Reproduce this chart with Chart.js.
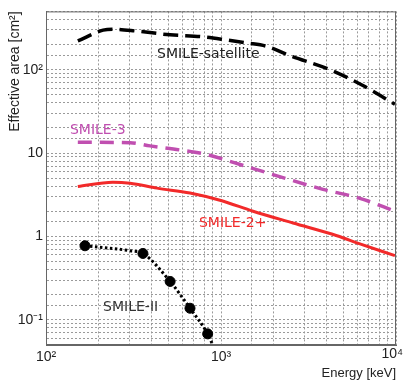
<!DOCTYPE html>
<html>
<head>
<meta charset="utf-8">
<script src="https://cdn.jsdelivr.net/npm/chart.js@4.4.1/dist/chart.umd.min.js"></script>
<style>
	html, body { margin: 0; padding: 0; background: #fff; }
	#wrap { width: 404px; height: 383px; }
</style>
</head>
<body>
<div id="wrap"><canvas id="areaChart"></canvas></div>
<script>
// energy [keV] / effective area [cm2]
const satEnergy = [152, 212, 241, 331, 512, 789, 1082, 1408, 1833, 2480, 4200, 6470, 9860];
const satArea = [221, 298, 306, 290, 262, 248, 227, 209, 190, 147, 100, 64.6, 38.5];

const s3Energy = [152, 302, 393, 583, 832, 1285, 1980, 3830, 6220, 9860];
const s3Area = [13.5, 13.3, 12.2, 10.9, 9.6, 7.3, 5.53, 3.67, 2.87, 2.01];

const s2pEnergy = [152, 241, 302, 431, 665, 986, 1524, 2580, 4600, 6220, 9860];
const s2pArea = [3.98, 4.48, 4.36, 3.80, 3.32, 2.72, 2.01, 1.45, 1.02, 0.816, 0.59];

const s2Energy = [167, 358, 512, 665, 839];
const s2Area = [0.774, 0.626, 0.289, 0.138, 0.068];
const s2FitEnergy = [167, 302, 358, 512, 665, 839, 890];
const s2FitArea = [0.774, 0.675, 0.626, 0.289, 0.138, 0.068, 0.052];

const xTickValues = [100, 1000, 10000];
const xTickLabels = ["10²", "10³", "10⁴"];
const yTickLabels = { 0.1: "10⁻¹", 1: "1", 10: "10", 100: "10²" };

const curveNames = ["SMILE-satellite", "SMILE-3", "SMILE-2+", "SMILE-II"];
const nameEnergy = [431, 137, 748, 212];
const nameArea = [151, 18.5, 1.45, 0.142];
const nameColors = ["#222222", "#c04fb0", "#f22a2a", "#333333"];

const tickFont = "'Liberation Sans', Arial, sans-serif";

function points(xs, ys) {
	return xs.map((x, i) => ({ x: x, y: ys[i] }));
}

const curveNamesPlugin = {
	id: "curveNames",
	afterDatasetsDraw(chart) {
		const ctx = chart.ctx;
		const area = chart.chartArea;
		const xs = chart.scales.x;
		const ys = chart.scales.y;

		ctx.save();
		ctx.strokeStyle = "#666";
		ctx.lineWidth = 1;
		ctx.strokeRect(area.left + 0.5, area.top + 0.5, area.right - area.left - 1, area.bottom - area.top - 1);

		// x tick labels, last one kept inside the canvas
		ctx.font = "14px " + tickFont;
		ctx.fillStyle = "#222";
		ctx.textBaseline = "middle";
		xTickValues.forEach((v, i) => {
			const last = i === xTickValues.length - 1;
			ctx.textAlign = last ? "right" : "center";
			const px = last ? chart.width - 1 : xs.getPixelForValue(v);
			ctx.fillText(xTickLabels[i], px, area.bottom + (last ? 9 : 12));
		});

		ctx.font = "14px 'Comic Sans MS', 'DejaVu Sans', sans-serif";
		ctx.textAlign = "left";
		curveNames.forEach((name, i) => {
			ctx.fillStyle = nameColors[i];
			ctx.fillText(name, xs.getPixelForValue(nameEnergy[i]), ys.getPixelForValue(nameArea[i]));
		});
		ctx.restore();
	}
};

const grid = { color: "#9a9a9a", lineWidth: 1, drawTicks: false };

new Chart(document.getElementById("areaChart"), {
	type: "scatter",
	data: {
		datasets: [
			{
				data: points(satEnergy, satArea),
				showLine: true,
				borderColor: "#000",
				borderWidth: 3.5,
				borderDash: [15, 7],
				pointRadius: 0,
				cubicInterpolationMode: "monotone"
			},
			{
				data: points(s3Energy, s3Area),
				showLine: true,
				borderColor: "#c04fb0",
				borderWidth: 3.5,
				borderDash: [14, 8],
				pointRadius: 0,
				cubicInterpolationMode: "monotone"
			},
			{
				data: points(s2pEnergy, s2pArea),
				showLine: true,
				borderColor: "#f22a2a",
				borderWidth: 3,
				pointRadius: 0,
				cubicInterpolationMode: "monotone"
			},
			{
				data: points(s2FitEnergy, s2FitArea),
				showLine: true,
				borderColor: "#000",
				borderWidth: 3,
				borderDash: [2.5, 2.5],
				pointRadius: 0,
				cubicInterpolationMode: "monotone"
			},
			{
				data: points(s2Energy, s2Area),
				showLine: false,
				backgroundColor: "#000",
				borderColor: "#000",
				pointRadius: 5,
				pointHoverRadius: 5
			}
		]
	},
	options: {
		responsive: true,
		maintainAspectRatio: false,
		animation: false,
		layout: { padding: { top: 3, right: 0, left: 0, bottom: 0 } },
		plugins: {
			legend: { display: false },
			tooltip: { enabled: false }
		},
		scales: {
			x: {
				type: "logarithmic",
				min: 100,
				max: 10000,
				grid: grid,
				border: { display: true, color: "#666", dash: [2, 2] },
				afterFit: function (scale) {
					scale.height = 38;
					scale.paddingRight = 8;
				},
				ticks: {
					autoSkip: false,
					maxRotation: 0,
					padding: 4,
					font: { family: tickFont, size: 14 },
					callback: function () {
						return "";
					}
				},
				title: {
					display: true,
					text: "Energy [keV]",
					align: "end",
					color: "#222",
					font: { family: tickFont, size: 13 },
					padding: { top: 0, bottom: 2 }
				}
			},
			y: {
				type: "logarithmic",
				min: 0.05,
				max: 500,
				grid: grid,
				border: { display: true, color: "#666", dash: [2, 2] },
				afterFit: function (scale) {
					scale.width = 46;
				},
				ticks: {
					autoSkip: false,
					padding: 3,
					color: "#222",
					font: { family: tickFont, size: 14 },
					callback: function (value) {
						return yTickLabels[value] || "";
					}
				},
				title: {
					display: true,
					text: "Effective area [cm²]",
					align: "end",
					color: "#222",
					font: { family: tickFont, size: 14 },
					padding: { top: 7, bottom: 0 }
				}
			}
		}
	},
	plugins: [curveNamesPlugin]
});
</script>
</body>
</html>
